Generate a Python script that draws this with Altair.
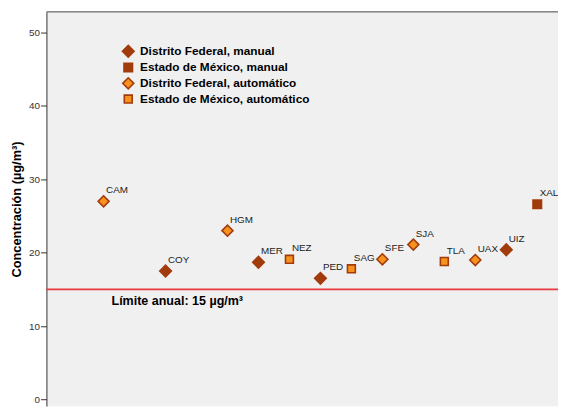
import altair as alt
import pandas as pd

# Station slots along the x axis (None = empty slot with no data)
slots = ["CAM", None, "COY", None, "HGM", "MER", "NEZ", "PED", "SAG",
         "SFE", "SJA", "TLA", "UAX", "UIZ", "XAL"]

stations = ["CAM", "COY", "HGM", "MER", "NEZ", "PED", "SAG",
            "SFE", "SJA", "TLA", "UAX", "UIZ", "XAL"]
values = [27.0, 17.5, 23.0, 18.7, 19.1, 16.5, 17.8,
          19.1, 21.1, 18.8, 19.0, 20.4, 26.6]
types = ["Distrito Federal, automático", "Distrito Federal, manual",
         "Distrito Federal, automático", "Distrito Federal, manual",
         "Estado de México, automático", "Distrito Federal, manual",
         "Estado de México, automático", "Distrito Federal, automático",
         "Distrito Federal, automático", "Estado de México, automático",
         "Distrito Federal, automático", "Distrito Federal, manual",
         "Estado de México, manual"]

type_order = ["Distrito Federal, manual", "Estado de México, manual",
              "Distrito Federal, automático", "Estado de México, automático"]

limit_value = 15
limit_label = "Límite anual: 15 µg/m³"

df = pd.DataFrame({
    "estacion": stations,
    "valor": values,
    "tipo": types,
})
df["pos"] = [slots.index(s) for s in stations]

W, H = 519, 400
DARK = "#a23b0c"
ORANGE = "#f7921e"

x_scale = alt.Scale(domain=[-1.845, 14.67], nice=False, zero=False)
y_scale = alt.Scale(domain=[-0.91, 52.82], nice=False, zero=False)

base = alt.Chart(df)

points = base.mark_point(filled=True, opacity=1, strokeWidth=1.6).encode(
    x=alt.X("pos:Q", scale=x_scale, axis=None),
    y=alt.Y("valor:Q", scale=y_scale,
            axis=alt.Axis(values=[0, 10, 20, 30, 40, 50],
                          title="Concentración (µg/m³)",
                          titleFontWeight="bold", titleFontSize=13,
                          titleFont="Liberation Sans", titleColor="#000",
                          titlePadding=5,
                          labelFont="Liberation Sans", labelFontSize=10,
                          labelColor="#333", labelPadding=1,
                          tickColor="#333", tickSize=6,
                          domainColor="#333", grid=False)),
    shape=alt.Shape("tipo:N", scale=alt.Scale(
        domain=type_order, range=["diamond", "square", "diamond", "square"]),
        title=None),
    fill=alt.Fill("tipo:N", scale=alt.Scale(
        domain=type_order, range=[DARK, DARK, ORANGE, ORANGE]), title=None),
    stroke=alt.Stroke("tipo:N", scale=alt.Scale(
        domain=type_order, range=[DARK, DARK, DARK, DARK]), title=None),
    size=alt.Size("tipo:N", scale=alt.Scale(
        type="ordinal", domain=type_order, range=[140, 75, 125, 64]),
        title=None),
)

labels = base.mark_text(align="left", baseline="alphabetic", dx=2.5, dy=-8,
                        font="Liberation Sans", fontSize=10, color="#222").encode(
    x=alt.X("pos:Q", scale=x_scale),
    y=alt.Y("valor:Q", scale=y_scale),
    text="estacion:N",
)

limit_df = pd.DataFrame({"v": [limit_value], "t": [limit_label]})
limit_rule = alt.Chart(limit_df).mark_rule(color="#e8383d", strokeWidth=2).encode(
    y=alt.Y("v:Q", scale=y_scale),
)
limit_text = alt.Chart(limit_df).mark_text(
    align="left", baseline="alphabetic", dy=16, font="Liberation Sans",
    fontSize=12.7, fontWeight="bold", color="#000").encode(
    x=alt.value(66),
    y=alt.Y("v:Q", scale=y_scale),
    text="t:N",
)

top_border = alt.Chart(limit_df).mark_rule(color="#444", strokeWidth=1).encode(
    x=alt.value(0), x2=alt.value(W), y=alt.value(0),
)

chart = alt.layer(top_border, limit_rule, limit_text, points, labels).properties(
    width=W, height=H,
    autosize=alt.AutoSizeParams(type="none"),
    padding={"left": 39, "top": 1, "right": 0, "bottom": 0},
    background="#ffffff",
).configure_view(
    fill="#f0f0f0", stroke=None,
).configure_legend(
    orient="none", legendX=76, legendY=33, padding=0,
    labelFont="Liberation Sans", labelFontSize=12, labelFontWeight="bold",
    labelColor="#000", rowPadding=-1.5, labelOffset=5, symbolStrokeWidth=1.6,
    labelLimit=400,
)

chart.save("out.html", embed_options={"renderer": "svg", "actions": False})
